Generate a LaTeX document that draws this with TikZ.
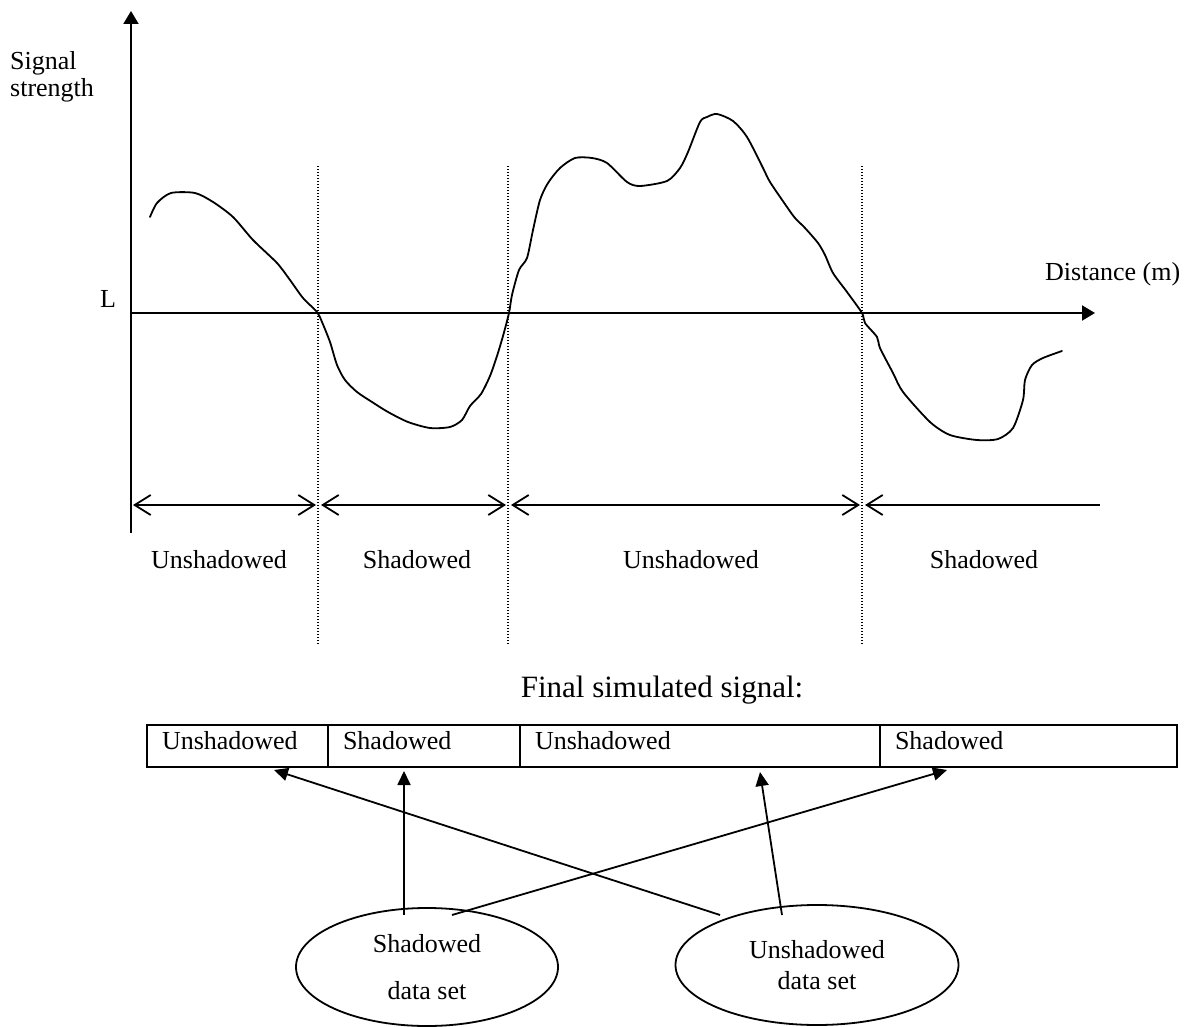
\documentclass[tikz,border=0pt]{standalone}
\usepackage{fontspec}
\setmainfont{Liberation Serif}
\usetikzlibrary{arrows.meta,shapes.geometric}
\newcommand\lblfont{\fontsize{26}{31}\selectfont}
\newcommand\titlefont{\fontsize{31}{37}\selectfont}
\begin{document}
\begin{tikzpicture}[x=1pt,y=-1pt,
  axis/.style={line width=2pt,-{Triangle[length=13pt,width=15pt]}},
  sigcurve/.style={line width=1.8pt,line join=round,line cap=round},
  divline/.style={line width=1.2pt,dash pattern=on 1.2pt off 1.8pt},
  span/.style={line width=1.8pt,{Straight Barb[length=16pt,width=20pt]}-{Straight Barb[length=16pt,width=20pt]}},
  spanleft/.style={line width=1.8pt,{Straight Barb[length=16pt,width=20pt]}-},
  lbl/.style={font=\lblfont,inner sep=0pt},
  cell/.style={draw,line width=2pt,minimum height=42pt,inner xsep=15pt,inner ysep=0pt,
    text height=18pt,text depth=12pt,align=left,font=\lblfont},
  dataset/.style={draw,ellipse,line width=1.8pt,inner sep=0pt,align=center,font=\lblfont},
  feed/.style={line width=1.8pt,-{Triangle[length=14pt,width=13pt]}}]
\useasboundingbox (0,0) rectangle (1187,1027);

% axes
\coordinate (origin) at (131,313);
\coordinate (ybot) at (131,533);
\coordinate (ytop) at (131,11);
\coordinate (xend) at (1095,313);
\draw[line width=2pt] (ybot) -- (origin);
\draw[axis] (origin) -- (ytop);
\draw[axis] (origin) -- (xend);

\node[lbl,anchor=base west] (sig) at (10,70) {Signal};
\node[lbl,anchor=base west] (str) at (10,97) {strength};
\node[lbl,anchor=base west] (lvl) at (100,308) {L};
\node[lbl,anchor=base west] (dist) at (1045,281) {Distance (m)};

% dotted boundaries
\coordinate (d1t) at (318,166); \coordinate (d1b) at (318,645);
\coordinate (d2t) at (508,166); \coordinate (d2b) at (508,645);
\coordinate (d3t) at (862,166); \coordinate (d3b) at (862,645);
\draw[divline] (d1t) -- (d1b);
\draw[divline] (d2t) -- (d2b);
\draw[divline] (d3t) -- (d3b);

% signal curve
\draw[sigcurve] plot[smooth,tension=0.45] coordinates {
 (150,217) (157,203) (171,193) (195,193) (213,202) (233,217) (253,240) (277,263)
 (290,280) (303,298) (317,312) (322,322) (330,342) (337,365) (345,380) (357,392)
 (372,402) (388,412) (408,422) (430,428) (450,427) (462,420) (470,406) (481,394)
 (490,376) (497,356) (503,336) (509,313) (512,295) (519,270) (527,258) (533,230)
 (540,200) (548,183) (560,168) (575,158) (592,158) (607,163) (627,182) (640,186)
 (667,181) (680,168) (688,152) (700,122) (707,117) (717,114) (733,121) (747,137)
 (763,168) (770,182) (787,207) (795,218) (805,228) (818,243) (825,255) (833,273)
 (847,292) (862,313) (865,323) (877,337) (880,348) (893,373) (903,392) (930,422)
 (950,435) (977,440) (998,439) (1013,428) (1023,400) (1025,380) (1032,365)
 (1043,358) (1062,351)};

% span arrows
\coordinate (r0) at (133,505);
\coordinate (r1a) at (316,505); \coordinate (r1b) at (321,505);
\coordinate (r2a) at (506,505); \coordinate (r2b) at (511,505);
\coordinate (r3a) at (860,505); \coordinate (r3b) at (865,505);
\coordinate (r4) at (1100,505);
\draw[span] (r0) -- (r1a);
\draw[span] (r1b) -- (r2a);
\draw[span] (r2b) -- (r3a);
\draw[spanleft] (r3b) -- (r4);

\node[lbl,anchor=base] (z1) at (219,568) {Unshadowed};
\node[lbl,anchor=base] (z2) at (417,568) {Shadowed};
\node[lbl,anchor=base] (z3) at (691,568) {Unshadowed};
\node[lbl,anchor=base] (z4) at (984,568) {Shadowed};

% final signal
\node[font=\titlefont,inner sep=0pt,anchor=base] (title) at (662,697) {Final simulated signal:};
\node[cell,text width=151pt] (c1) at (237.5,746) {Unshadowed};
\node[cell,text width=162pt] (c2) at (424,746) {Shadowed};
\node[cell,text width=330pt] (c3) at (700,746) {Unshadowed};
\node[cell,text width=267pt] (c4) at (1028.5,746) {Shadowed};

% data sets
\node[dataset,minimum width=262pt,minimum height=118pt] (e1) at (427,967)
  {Shadowed\\[16pt]data set};
\node[dataset,minimum width=283pt,minimum height=120pt] (e2) at (817,965)
  {Unshadowed\\data set};

\coordinate (s1) at (720,915); \coordinate (t1) at (274,770);
\coordinate (s2) at (404,915); \coordinate (t2) at (404,771);
\coordinate (s3) at (452,915); \coordinate (t3) at (947,770);
\coordinate (s4) at (782,915); \coordinate (t4) at (760,772);
\draw[feed] (s1) -- (t1);
\draw[feed] (s2) -- (t2);
\draw[feed] (s3) -- (t3);
\draw[feed] (s4) -- (t4);
\end{tikzpicture}
\end{document}
